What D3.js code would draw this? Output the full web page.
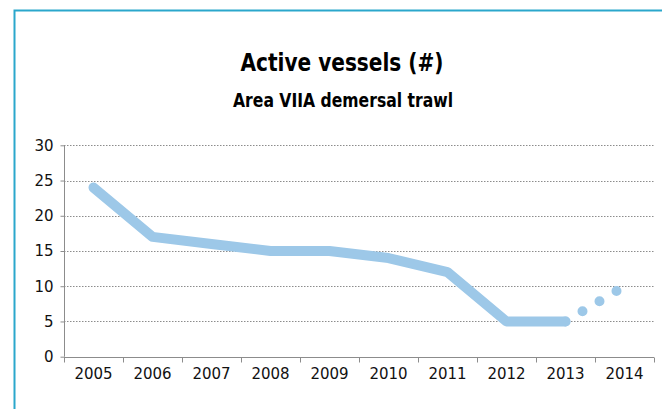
<!DOCTYPE html>
<html>
<head>
<meta charset="utf-8">
<title>Active vessels</title>
<script src="https://d3js.org/d3.v7.min.js"></script>
<style>
  body { margin: 0; background: #fff; }
</style>
</head>
<body>
<div id="chart"></div>
<script>
// chart data
var years = ["2005", "2006", "2007", "2008", "2009", "2010", "2011", "2012", "2013", "2014"];
var vessels = [24, 17, 16, 15, 15, 14, 12, 5, 5];
var forecastYears = ["2013", "2014"];
var forecast = [5, 10];
var yTicks = [0, 5, 10, 15, 20, 25, 30];

var width = 662, height = 409;
var plotLeft = 64, plotRight = 654, plotTop = 145.3, plotBottom = 356.7;

var svg = d3.select("#chart").append("svg")
  .attr("width", width)
  .attr("height", height);

// outer frame
svg.append("rect")
  .attr("x", 14.5).attr("y", 10.5)
  .attr("width", 700).attr("height", 500)
  .attr("fill", "none")
  .attr("stroke", "#2ba7cc")
  .attr("stroke-width", 2);

var x = d3.scaleBand().domain(years).range([plotLeft, plotRight]);
var y = d3.scaleLinear().domain([0, 30]).range([plotBottom, plotTop]);

// titles
svg.append("text")
  .attr("x", 342).attr("y", 71)
  .attr("text-anchor", "middle")
  .attr("font-family", "DejaVu Sans Condensed")
  .attr("font-weight", "bold")
  .attr("font-size", 25)
  .attr("textLength", 203).attr("lengthAdjust", "spacingAndGlyphs")
  .attr("fill", "#000")
  .text("Active vessels (#)");

svg.append("text")
  .attr("x", 343).attr("y", 107)
  .attr("text-anchor", "middle")
  .attr("font-family", "DejaVu Sans Condensed")
  .attr("font-weight", "bold")
  .attr("font-size", 19)
  .attr("textLength", 220).attr("lengthAdjust", "spacingAndGlyphs")
  .attr("fill", "#000")
  .text("Area VIIA demersal trawl");

// gridlines
svg.append("g")
  .selectAll("line")
  .data(yTicks.filter(function (d) { return d > 0; }))
  .enter().append("line")
  .attr("x1", plotLeft).attr("x2", plotRight)
  .attr("y1", function (d) { return Math.round(y(d)) + 0.5; })
  .attr("y2", function (d) { return Math.round(y(d)) + 0.5; })
  .attr("stroke", "#8c8c8c")
  .attr("stroke-dasharray", "1.5,1.5");

// y axis
var yAxis = svg.append("g")
  .attr("transform", "translate(" + (plotLeft + 0.5) + ",0)")
  .call(d3.axisLeft(y).tickValues(yTicks).tickSize(4).tickPadding(7));
yAxis.select(".domain").attr("stroke", "#8c8c8c").attr("d", "M0," + plotTop + "V" + plotBottom);
yAxis.selectAll(".tick line").attr("stroke", "#8c8c8c");
yAxis.selectAll("text")
  .attr("font-family", "DejaVu Sans")
  .attr("font-size", 15)
  .attr("fill", "#111");

// x axis
var xAxis = svg.append("g")
  .attr("transform", "translate(0," + (Math.round(plotBottom) + 0.5) + ")")
  .call(d3.axisBottom(x).tickSize(0).tickPadding(11));
xAxis.select(".domain").attr("stroke", "#8c8c8c").attr("d", "M" + plotLeft + ",0H" + plotRight);
xAxis.selectAll("text")
  .attr("font-family", "DejaVu Sans")
  .attr("font-size", 15)
  .attr("fill", "#111");
// tick marks between categories
xAxis.selectAll(".sep")
  .data(years.concat(["end"]))
  .enter().append("line")
  .attr("class", "sep")
  .attr("x1", function (d, i) { return Math.round(plotLeft + i * x.bandwidth()) + 0.5; })
  .attr("x2", function (d, i) { return Math.round(plotLeft + i * x.bandwidth()) + 0.5; })
  .attr("y1", 0).attr("y2", 5)
  .attr("stroke", "#8c8c8c");

var cx = function (d) { return x(d) + x.bandwidth() / 2; };

// forecast (dotted)
var fLine = d3.line()
  .x(function (d, i) { return cx(forecastYears[i]); })
  .y(function (d) { return y(d); });
svg.append("path")
  .datum(forecast)
  .attr("d", fLine)
  .attr("fill", "none")
  .attr("stroke", "#9dc8e8")
  .attr("stroke-width", 10)
  .attr("stroke-linecap", "round")
  .attr("stroke-dasharray", "0,19.8");

// actual line
var line = d3.line()
  .x(function (d, i) { return cx(years[i]); })
  .y(function (d) { return y(d); });
svg.append("path")
  .datum(vessels)
  .attr("d", line)
  .attr("fill", "none")
  .attr("stroke", "#9dc8e8")
  .attr("stroke-width", 10)
  .attr("stroke-linecap", "round")
  .attr("stroke-linejoin", "round");
</script>
</body>
</html>
